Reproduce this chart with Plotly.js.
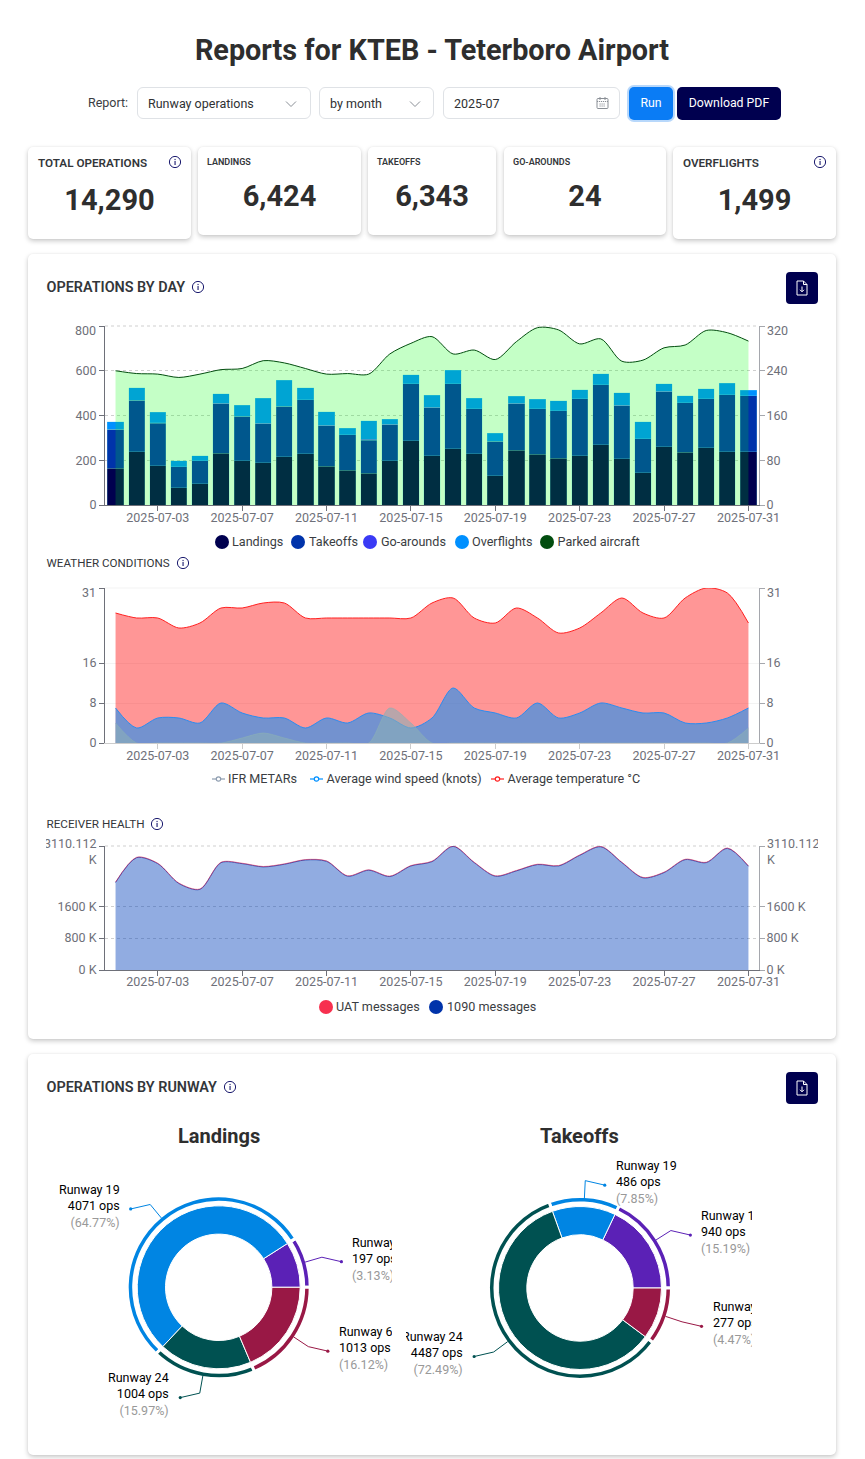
<!DOCTYPE html>
<html>
<head>
<meta charset="utf-8">
<title>Reports for KTEB - Teterboro Airport</title>
<script src="https://cdn.plot.ly/plotly-3.0.1.min.js"></script>
<style>
html,body{margin:0;padding:0;background:#fff;font-family:Roboto,sans-serif;color:#2f3133;}
#page{position:relative;width:865px;height:1459px;overflow:hidden;}
.abs{position:absolute;}
.card{position:absolute;background:#fff;border-radius:5px;box-shadow:0 2px 5px rgba(0,0,0,.22),0 0 2px rgba(0,0,0,.06);}
.t{position:absolute;white-space:nowrap;line-height:1;}
.ctl{position:absolute;top:87px;height:30px;border:1px solid #dfe2e6;border-radius:6px;box-sizing:content-box;background:#fff;}
.btn{position:absolute;top:87px;height:33px;border-radius:5px;color:#fff;font-size:12.3px;text-align:center;line-height:32px;}
.plot{position:absolute;overflow:hidden;}
.lg{position:absolute;white-space:nowrap;font-size:12.6px;line-height:1;color:#3a3d42;}
.dot{position:absolute;width:14px;height:14px;border-radius:50%;}
</style>
</head>
<body>
<div id="page"></div>
<script>
/* ---------- data ---------- */
const days = ['2025-07-01','2025-07-02','2025-07-03','2025-07-04','2025-07-05','2025-07-06','2025-07-07','2025-07-08','2025-07-09','2025-07-10','2025-07-11','2025-07-12','2025-07-13','2025-07-14','2025-07-15','2025-07-16','2025-07-17','2025-07-18','2025-07-19','2025-07-20','2025-07-21','2025-07-22','2025-07-23','2025-07-24','2025-07-25','2025-07-26','2025-07-27','2025-07-28','2025-07-29','2025-07-30','2025-07-31'];
const tickDays = ['2025-07-03','2025-07-07','2025-07-11','2025-07-15','2025-07-19','2025-07-23','2025-07-27','2025-07-31'];

const landings   = [164,237,176,77,95,231,198,189,215,229,173,155,142,198,288,220,252,229,130,244,226,210,220,270,206,145,261,235,256,238,238];
const takeoffs   = [174,231,189,94,103,222,198,175,226,242,182,159,148,161,253,215,290,201,156,209,204,212,255,268,238,151,246,221,219,255,251];
const goArounds  = [1,1,2,0,0,1,1,1,1,0,1,0,4,1,1,1,1,1,0,1,1,0,1,0,1,1,1,0,1,0,0];
const overflights= [32,55,47,26,22,44,48,113,115,52,60,30,83,24,41,54,59,47,34,32,41,44,39,48,57,74,33,33,44,51,24];
const parked     = [240,235,234,228,234,242,244,258,254,244,234,235,234,270,289,301,270,277,260,292,317,313,288,297,257,259,281,286,312,308,293];

const ifrMetars  = [4,0,0,0,0,0,1,2,1,0,0,0,0,7,4,0,0,0,0,0,0,0,0,0,0,0,0,0,0,0,3];
const windSpeed  = [7,3,5,5,4,8,6,5,5,3,5,4,6,5,3,5,11,7,6,5,8,5,6,8,7,6,6,4,4,5,7];
const temperature= [26,25,25,23,24,27,27,28,28,25,25,25,25,25,25,28,29,25,24,27,25,22,23,26,29,26,25,29,31,30,24];

const msgs1090   = [2196,2818,2668,2171,2022,2693,2668,2586,2652,2760,2726,2353,2503,2345,2610,2718,3100,2693,2353,2486,2644,2610,2876,3091,2693,2312,2444,2768,2693,3050,2602];
const msgsUat    = [10,10,10,10,10,10,10,10,10,10,10,10,10,10,10,10,10,10,10,10,10,10,10,10,10,10,10,10,10,10,10];

const runwayNames = ['Runway 1','Runway 19','Runway 24','Runway 6'];
const landingOps  = [197,4071,1004,1013];
const landingPct  = ['3.13','64.77','15.97','16.12'];
const landingArc  = [32.5,194.2,66.3,67];    /* drawn share of the ring */
const takeoffOps  = [940,486,4487,277];
const takeoffPct  = ['15.19','7.85','72.49','4.47'];
const takeoffArc  = [64.6,45.2,213.5,36.7];

/* ---------- colours ---------- */
const cNavy='#00004f', cTake='#0033aa', cGo='#3a3af5', cOver='#0090ff', cPark='#024d0f';
const ringColors=['#5b21b6','#0085e3','#005151','#991845'];
const axisDark='#6e7079', axisSoft='#a5a7ad', tickFont={family:'Roboto, sans-serif',size:12.5,color:'#6e7079'};

/* ---------- static page furniture ---------- */
const page=document.getElementById('page');
function add(html){page.insertAdjacentHTML('beforeend',html);}
function text(x,y,s,size,weight,color,anchor){
  const tr=anchor==='c'?'translate(-50%,-50%)':'translateY(-50%)';
  add(`<div class="t" style="left:${x}px;top:${y}px;font-size:${size}px;font-weight:${weight||400};color:${color||'#2f3133'};transform:${tr}">${s}</div>`);
}
function info(x,y){
  add(`<svg class="abs" style="left:${x-7}px;top:${y-7}px" width="14" height="14" viewBox="0 0 14 14"><circle cx="7" cy="7" r="5.6" fill="none" stroke="#1a1a6e" stroke-width="1"/><rect x="6.5" y="6" width="1.1" height="4" fill="#1a1a6e"/><rect x="6.5" y="3.9" width="1.1" height="1.2" fill="#1a1a6e"/></svg>`);
}
function docBtn(y){
  add(`<div class="abs" style="left:786px;top:${y}px;width:32px;height:32px;border-radius:4px;background:${cNavy}"><svg style="position:absolute;left:9px;top:8px" width="14" height="16" viewBox="0 0 14 16"><path d="M2 1h6.5L12 4.5V15H2z M8.5 1v3.5H12" fill="none" stroke="#fff" stroke-width="1"/><path d="M7 6.5v5 M5 9.8l2 2 2-2" fill="none" stroke="#fff" stroke-width="1"/></svg></div>`);
}
function chev(x,y){add(`<svg class="abs" style="left:${x}px;top:${y}px" width="12" height="8" viewBox="0 0 12 8"><path d="M1 1.5l5 5 5-5" fill="none" stroke="#8a8f96" stroke-width="1"/></svg>`);}

text(432,50,'Reports for KTEB - Teterboro Airport',28.8,700,'#2e2e2e','c');
text(88,103,'Report:',12.5,400,'#3a3d42');
add('<div class="ctl" style="left:137px;width:172px"></div><div class="ctl" style="left:319px;width:113px"></div><div class="ctl" style="left:443px;width:175px"></div>');
text(148,104,'Runway operations',12.5,400,'#2f3133');
text(330,104,'by month',12.5,400,'#2f3133');
text(454,104,'2025-07',12.5,400,'#2f3133');
chev(285,100);chev(409,100);
add(`<svg class="abs" style="left:596px;top:96px" width="13" height="14" viewBox="0 0 13 14"><rect x="1" y="2.5" width="11" height="10" rx="1" fill="none" stroke="#8a8f96"/><path d="M1 5.5h11 M4 1v3 M9 1v3 M3.5 8h6 M3.5 10h6" stroke="#8a8f96" fill="none" stroke-dasharray="1.2 .8"/></svg>`);
add(`<div class="btn" style="left:629px;width:44px;background:#0a7cf5;box-shadow:0 0 0 2px #b8d8fb">Run</div>`);
add(`<div class="btn" style="left:677px;width:104px;background:${cNavy}">Download PDF</div>`);

const kpis=[
 {l:28,w:163,h:92,label:'TOTAL OPERATIONS',value:'14,290',big:true,icon:175},
 {l:198,w:163,h:88,label:'LANDINGS',value:'6,424'},
 {l:368,w:128,h:88,label:'TAKEOFFS',value:'6,343'},
 {l:504,w:162,h:88,label:'GO-AROUNDS',value:'24'},
 {l:673,w:163,h:92,label:'OVERFLIGHTS',value:'1,499',big:true,icon:820}];
kpis.forEach(k=>{
  add(`<div class="card" style="left:${k.l}px;top:147px;width:${k.w}px;height:${k.h}px"></div>`);
  text(k.l+(k.big?10:9),k.big?164:162,k.label,k.big?11.7:9,600,'#33363a');
  text(k.l+k.w/2,k.big?200:196,k.value,29,700,'#2e2e2e','c');
  if(k.icon)info(k.icon,162);
});
add('<div class="card" style="left:28px;top:254px;width:808px;height:785px"></div>');
add('<div class="card" style="left:28px;top:1054px;width:808px;height:401px"></div>');
text(46.5,288,'OPERATIONS BY DAY',14.4,600,'#33363a');info(198,286.5);docBtn(272);
text(46.5,564,'WEATHER CONDITIONS',11.6,400,'#33363a');info(183,562.5);
text(46.5,825,'RECEIVER HEALTH',11.7,400,'#33363a');info(157,823.5);
text(46.5,1088,'OPERATIONS BY RUNWAY',14.4,600,'#33363a');info(230,1086.5);docBtn(1072);

/* legends */
function dotItem(dx,tx,y,color,label){
  add(`<div class="dot" style="left:${dx-7}px;top:${y-7}px;background:${color}"></div><div class="lg" style="left:${tx}px;top:${y-5.5}px">${label}</div>`);
}
function lineItem(lx,tx,y,color,label){
  add(`<svg class="abs" style="left:${lx}px;top:${y-5}px" width="13" height="10" viewBox="0 0 13 10"><path d="M0 5h13" stroke="${color}" stroke-width="1.2"/><circle cx="6.5" cy="5" r="2.2" fill="#fff" stroke="${color}" stroke-width="1.2"/></svg><div class="lg" style="left:${tx}px;top:${y-5.5}px">${label}</div>`);
}
dotItem(222,232,541.5,cNavy,'Landings');
dotItem(298,309,541.5,cTake,'Takeoffs');
dotItem(370,381,541.5,cGo,'Go-arounds');
dotItem(462,472,541.5,cOver,'Overflights');
dotItem(547,557.5,541.5,cPark,'Parked aircraft');
lineItem(212,228,778.5,'#8e9db0','IFR METARs');
lineItem(310,326.5,778.5,'#0090ff','Average wind speed (knots)');
lineItem(491,507.5,778.5,'#ff2020','Average temperature °C');
dotItem(326,336,1006.5,'#f7304f','UAT messages');
dotItem(436,447,1006.5,cTake,'1090 messages');

/* ---------- cartesian helpers ---------- */
function mkDiv(id,l,t,w,h){
  add(`<div class="plot" id="${id}" style="left:${l}px;top:${t}px;width:${w}px;height:${h}px"></div>`);
  return document.getElementById(id);
}
const plotL=104.5, plotR=759, divL=46, divW=772;
const cfg={staticPlot:true,displayModeBar:false};
function xAxis(color,standoff){
  return {type:'category',categoryorder:'array',categoryarray:days,range:[-0.5,30.5],tickmode:'array',tickvals:tickDays,ticktext:tickDays,
    showgrid:false,zeroline:false,showline:true,linecolor:color,linewidth:1,ticks:'outside',ticklen:5,tickcolor:color,tickfont:tickFont,fixedrange:true,anchor:'y',layer:'above traces',ticklabelstandoff:standoff};
}
function yAxis(vals,labels,range,side,lineColor,grid,griddash,overlay){
  const a={range:range,tickmode:'array',tickvals:vals,ticktext:labels,side:side,showline:true,linecolor:lineColor,linewidth:1,ticks:'outside',ticklen:5,tickcolor:lineColor,tickfont:tickFont,zeroline:false,fixedrange:true,anchor:'x',automargin:false,layer:'above traces',showgrid:!!grid};
  if(grid){a.gridcolor=grid;a.griddash=griddash;a.gridwidth=1;}
  if(overlay)a.overlaying='y';
  if(side==='right')a.ticklabelstandoff=-1;
  return a;
}
function topLabel(txt,side,py,shift){
  const left=side==='l';
  return {xref:'paper',yref:'paper',x:left?0:1,y:1,xanchor:left?'right':'left',yanchor:'middle',
    xshift:left?-(shift||7):6,yshift:-py,text:txt,align:left?'right':'left',showarrow:false,font:tickFont};
}
function topGrid(color,dash){
  return {type:'line',xref:'paper',yref:'paper',x0:0,x1:1,y0:1,y1:1,layer:'below',line:{color:color,width:1,dash:dash}};
}
function base(h,t,b,extra){
  return Object.assign({width:divW,height:h,margin:{l:plotL-divL,r:divL+divW-plotR,t:t,b:b,pad:0},paper_bgcolor:'rgba(0,0,0,0)',plot_bgcolor:'rgba(0,0,0,0)',showlegend:false,font:{family:'Roboto, sans-serif'}},extra);
}
const SM=0.85, DASH='3px,3px', GRID='#cfcfcf';
const barEdge={color:'rgba(120,225,235,0.32)',width:0.8};

/* operations by day */
const parkedLine={color:cPark,width:1,shape:'spline',smoothing:SM};
Plotly.newPlot(mkDiv('chartDay',divL,320,divW,212),[
  {type:'scatter',mode:'lines',x:days,y:parked,yaxis:'y',name:'Parked aircraft (base)',line:{width:0,shape:'spline',smoothing:SM},fill:'tozeroy',fillcolor:'rgba(0,255,10,0.063)',hoverinfo:'skip'},
  {type:'bar',x:days,y:landings,yaxis:'y2',name:'Landings',marker:{color:cNavy,line:barEdge}},
  {type:'bar',x:days,y:takeoffs,yaxis:'y2',name:'Takeoffs',marker:{color:cTake,line:barEdge}},
  {type:'bar',x:days,y:goArounds,yaxis:'y2',name:'Go-arounds',marker:{color:cGo,line:barEdge}},
  {type:'bar',x:days,y:overflights,yaxis:'y2',name:'Overflights',marker:{color:cOver,line:barEdge}},
  {type:'scatter',mode:'lines',x:days,y:parked,yaxis:'y3',name:'Parked aircraft',line:parkedLine,fill:'tozeroy',fillcolor:'rgba(0,255,10,0.18)'}
],base(212,6,27,{
  barmode:'stack',bargap:0.23,
  xaxis:xAxis(axisDark,-4),
  yaxis:yAxis([0,80,160,240,320],['0','80','160','240',''],[0,320],'right',axisSoft,GRID,DASH),
  yaxis2:yAxis([0,200,400,600,800],['0','200','400','600',''],[0,800],'left',axisDark,null,null,true),
  yaxis3:Object.assign(yAxis([],[],[0,320],'right',axisSoft,null,null,true),{visible:false}),
  shapes:[topGrid(GRID,DASH)],
  annotations:[topLabel('800','l',4),topLabel('320','r',4)]
}),cfg);

/* weather */
Plotly.newPlot(mkDiv('chartWeather',divL,582,divW,188),[
  {type:'scatter',mode:'lines',x:days,y:temperature,yaxis:'y',name:'Average temperature °C',line:{color:'#ff2020',width:1,shape:'spline',smoothing:SM},fill:'tozeroy',fillcolor:'rgba(255,0,0,0.41)'},
  {type:'scatter',mode:'lines',x:days,y:windSpeed,yaxis:'y2',name:'Average wind speed (knots)',line:{color:'#2a8cf0',width:1,shape:'spline',smoothing:SM},fill:'tozeroy',fillcolor:'rgba(0,144,255,0.55)'},
  {type:'scatter',mode:'lines',x:days,y:ifrMetars,yaxis:'y2',name:'IFR METARs',line:{color:'rgba(138,175,183,0.6)',width:1,shape:'spline',smoothing:SM},fill:'tozeroy',fillcolor:'rgba(138,175,183,0.6)'}
],base(188,5.7,27,{
  xaxis:xAxis('#cccccc',-4),
  yaxis:yAxis([0,8,16,31],['0','8','16',''],[0,31],'left',axisDark,'#f3f3f3','solid'),
  yaxis2:yAxis([0,8,16,31],['0','8','16',''],[0,31],'right',axisSoft,null,null,true),
  shapes:[topGrid('#f3f3f3','solid')],
  annotations:[topLabel('31','l',4),topLabel('31','r',4)]
}),cfg);

/* receiver health */
const kTicks=[0,800,1600,3110.112];
const kText=['0 K','800 K','1600 K',''];
Plotly.newPlot(mkDiv('chartHealth',divL,839,divW,158),[
  {type:'scatter',mode:'lines',x:days,y:msgs1090,yaxis:'y',name:'1090 messages',line:{color:'#2a52b8',width:1,shape:'spline',smoothing:SM},fill:'tozeroy',fillcolor:'rgba(0,63,186,0.43)'},
  {type:'scatter',mode:'lines',x:days,y:msgs1090.map((v,i)=>v+msgsUat[i]),yaxis:'y2',name:'UAT messages',line:{color:'rgba(240,40,80,0.55)',width:1,shape:'spline',smoothing:SM}}
],base(158,6.6,27,{
  xaxis:xAxis(axisDark,-5),
  yaxis:yAxis(kTicks,kText,[0,3110.112],'left',axisDark,GRID,DASH),
  yaxis2:yAxis(kTicks,kText,[0,3110.112],'right',axisSoft,null,null,true),
  shapes:[topGrid(GRID,DASH)],
  annotations:[topLabel('3110.112<br>K','l',5,6),topLabel('3110.112<br>K','r',5)]
}),cfg);

/* ---------- donuts ---------- */
function donut(id,left,cx,cy,title,titleX,arcs,ops,pct){
  const W=346,H=310,top=1120;
  const c={x:cx-left,y:cy-top};
  const dom=r=>({x:[(c.x-r)/W,(c.x+r)/W],y:[1-(c.y+r)/H,1-(c.y-r)/H]});
  const px=(x)=>x/W, py=(y)=>1-y/H;
  const shapes=[],ann=[];
  let acc=0;
  arcs.forEach((a,i)=>{
    const mid=(acc+a/2)*Math.PI/180; acc+=a;
    const dirx=Math.cos(mid),diry=-Math.sin(mid);
    const s={x:c.x+90*dirx,y:c.y+90*diry}, e={x:c.x+107.5*dirx,y:c.y+107.5*diry};
    const sgn=dirx>=0?1:-1;
    const endp={x:e.x+sgn*19.5,y:e.y+4.5};
    shapes.push({type:'path',xref:'paper',yref:'paper',path:`M${px(s.x)},${py(s.y)} L${px(e.x)},${py(e.y)} L${px(endp.x)},${py(endp.y)}`,line:{color:ringColors[i],width:1},fillcolor:'rgba(0,0,0,0)'});
    const dr=1.6;
    shapes.push({type:'circle',xref:'paper',yref:'paper',x0:px(endp.x-dr),x1:px(endp.x+dr),y0:py(endp.y-dr),y1:py(endp.y+dr),fillcolor:ringColors[i],line:{width:0}});
    ann.push({xref:'paper',yref:'paper',x:px(endp.x+sgn*9),y:py(endp.y-3.2),xanchor:sgn>0?'left':'right',yanchor:'middle',align:sgn>0?'left':'right',showarrow:false,
      font:{family:'Roboto, sans-serif',size:12.5,color:'#000'},
      text:`${runwayNames[i]}<br>${ops[i]} ops<br><span style="color:#999999">(${pct[i]}%)</span>`});
  });
  ann.push({xref:'paper',yref:'paper',x:px(titleX-left),y:py(16),xanchor:'center',yanchor:'middle',showarrow:false,font:{family:'Roboto, sans-serif',size:20,color:'#2e2e2e',weight:700},text:title});
  const slice={type:'pie',labels:runwayNames,values:arcs,sort:false,direction:'counterclockwise',rotation:90-arcs[0],textinfo:'none',hoverinfo:'skip'};
  Plotly.newPlot(mkDiv(id,left,top,W,H),[
    Object.assign({},slice,{domain:dom(91.5),hole:85/91.5,marker:{colors:ringColors,line:{color:'#ffffff',width:3}}}),
    Object.assign({},slice,{domain:dom(81.5),hole:53.2/81.5,marker:{colors:ringColors,line:{color:'#ffffff',width:1}}})
  ],{width:W,height:H,margin:{l:0,r:0,t:0,b:0},paper_bgcolor:'rgba(0,0,0,0)',showlegend:false,shapes:shapes,annotations:ann,font:{family:'Roboto, sans-serif'}},cfg);
}
donut('pieLandings',46,218.7,1287.3,'Landings',219,landingArc,landingOps,landingPct);
donut('pieTakeoffs',406,580,1288,'Takeoffs',579.5,takeoffArc,takeoffOps,takeoffPct);
</script>
</body>
</html>
